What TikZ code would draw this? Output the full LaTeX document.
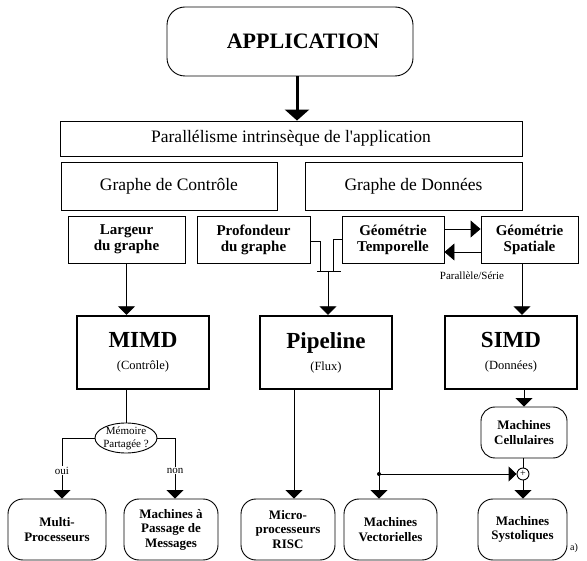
\documentclass[tikz,border=0pt]{standalone}
\usepackage{fontspec}
\setmainfont{Liberation Serif}
\usetikzlibrary{arrows.meta,shapes.geometric,calc}

\begin{document}
\begin{tikzpicture}[x=1pt,y=-1pt,
  thinline/.style={line width=0.9pt},
  box/.style={draw, line width=0.9pt, inner sep=0pt, align=center},
  rbox/.style={box, rounded corners=15pt},
  bigbox/.style={draw, line width=2.4pt, inner sep=0pt, align=center,
    minimum width=132pt, minimum height=73pt,
    font=\fontsize{12.5}{22}\selectfont},
  graphtxt/.style={font=\fontsize{17.5}{20}\selectfont},
  smalltxt/.style={font=\fontsize{15}{16}\selectfont\bfseries},
  leaftxt/.style={font=\fontsize{13}{14.5}\selectfont\bfseries},
  arr/.style={line width=0.9pt, -{Triangle[width=17pt,length=8.5pt]}},
  sidearr/.style={line width=0.9pt, -{Triangle[width=17pt,length=10pt]}},
]
\useasboundingbox (0,0) rectangle (587,561);

% top of the hierarchy
\node[draw, line width=0.9pt, rounded corners=18pt, inner sep=0pt,
      minimum width=246pt, minimum height=69pt,
      font=\fontsize{22}{26}\selectfont\bfseries] (app) at (290,41.5)
      {\hspace*{26pt}APPLICATION};
\node[box, graphtxt, minimum width=462pt, minimum height=35pt] (par) at (291,138.5)
      {Parallélisme intrinsèque de l\textquotesingle application};
\node[box, graphtxt, minimum width=216pt, minimum height=48pt] (gco) at (169,186)
      {Graphe de Contrôle};
\node[box, graphtxt, minimum width=217pt, minimum height=48pt] (gdo) at (413.5,186)
      {Graphe de Données};

% graph properties
\node[box, smalltxt, minimum width=117pt, minimum height=47pt] (lar) at (126.5,239.5)
      {Largeur\\du graphe};
\node[box, smalltxt, minimum width=113pt, minimum height=47pt] (pro) at (253.5,239.5)
      {Profondeur\\du graphe};
\node[box, smalltxt, minimum width=102pt, minimum height=47pt] (tem) at (393,239.5)
      {Géométrie\\Temporelle};
\node[box, smalltxt, minimum width=97pt, minimum height=47pt] (spa) at (529.5,239.5)
      {Géométrie\\Spatiale};

% architecture classes
\node[bigbox] (mimd) at (143,352.5)
      {{\fontsize{23}{23}\selectfont\bfseries MIMD}\\(Contrôle)};
\node[bigbox] (pip) at (326,352.5)
      {{\fontsize{23}{23}\selectfont\bfseries Pipeline}\\(Flux)};
\node[bigbox] (simd) at (511,352.5)
      {{\fontsize{23}{23}\selectfont\bfseries SIMD}\\(Données)};

% shared memory decision
\node[draw, ellipse, line width=0.9pt, inner sep=0pt,
      minimum width=62pt, minimum height=30pt] (mem) at (126,438) {};
\node[font=\fontsize{11}{13}\selectfont, align=center, inner sep=0pt] (memtxt) at (mem)
      {Mémoire\\Partagée ?};

% machines
\node[rbox, leaftxt, rounded corners=14pt, minimum width=86pt, minimum height=51pt] (cel) at (524,432.5)
      {Machines\\Cellulaires};
\node[draw, circle, line width=0.9pt, minimum size=12pt, inner sep=0pt,
      font=\fontsize{10}{10}\selectfont] (plus) at (523,474) {+};

\node[rbox, leaftxt, minimum width=98pt, minimum height=61pt] (mul) at (57,529.5)
      {Multi-\\Processeurs};
\node[rbox, leaftxt, minimum width=94pt, minimum height=61pt] (pas) at (171,529.5)
      {Machines à\\Passage de\\Messages};
\node[rbox, leaftxt, minimum width=94pt, minimum height=61pt] (mic) at (288,529.5)
      {Micro-\\processeurs\\RISC};
\node[rbox, leaftxt, minimum width=93pt, minimum height=61pt] (vec) at (390.5,529.5)
      {Machines\\Vectorielles};
\node[rbox, leaftxt, minimum width=89pt, minimum height=61pt] (sys) at (522.5,529.5)
      {Machines\\Systoliques};

\node[font=\fontsize{11}{13}\selectfont] (ps) at (472,276) {Parallèle/Série};
\node[font=\fontsize{10}{12}\selectfont] (tag) at (574,548) {a)};

% connectors
\coordinate (a1) at ($(app.south)+(7,0)$);
\draw[line width=3pt, -{Triangle[width=24pt,length=11pt]}] (a1) -- (a1 |- par.north);

\draw[arr] (lar.south) -- (lar.south |- mimd.north);

\coordinate (s1) at ($(spa.south)+(-7.5,0)$);
\draw[arr] (s1) -- (s1 |- simd.north);

\coordinate (t1) at ($(tem.east)+(0,-10.5)$);
\draw[sidearr] (t1) -- (t1 -| spa.west);
\coordinate (t2) at ($(spa.west)+(0,12.5)$);
\draw[sidearr] (t2) -- (t2 -| tem.east);

% depth and temporal geometry merge into the pipeline
\coordinate (bar) at (328,271);
\coordinate (pj) at ($(pro.east)+(0,1.5)$);
\coordinate (tj) at ($(tem.west)+(0,-0.5)$);
\draw[thinline] (pj) -- ++(10,0) -- ++(0,30);
\draw[thinline] (tj) -- ++(-8,0) -- ++(0,32);
\draw[thinline] ($(bar)+(-11,0)$) -- ($(bar)+(13,0)$);
\draw[arr] (bar) -- (bar |- pip.north);

% MIMD branch
\draw[thinline] (mem.north |- mimd.south) -- (mem.north);
\draw[arr] (mem.west) -| node[pos=0.77, fill=white, inner sep=1pt,
      font=\fontsize{11}{13}\selectfont] {oui} ($(mul.north)+(5,0)$);
\draw[arr] (mem.east) -| node[pos=0.77, fill=white, inner sep=1pt,
      font=\fontsize{11}{13}\selectfont] {non} ($(pas.north)+(4,0)$);

% pipeline branch
\coordinate (p1) at ($(pip.south)+(-32,0)$);
\draw[arr] (p1) -- (p1 |- mic.north);
\coordinate (p2) at ($(pip.south)+(53,0)$);
\draw[arr] (p2) -- (p2 |- vec.north);
\coordinate (dot) at (p2 |- plus);
\fill (dot) circle (2pt);
\draw[line width=0.9pt, -{Triangle[width=15pt,length=8pt]}] (dot) -- (plus.west);

% SIMD branch
\draw[arr] (cel.north |- simd.south) -- (cel.north);
\draw[thinline] (plus.north |- cel.south) -- (plus.north);
\draw[arr] (plus.south) -- (plus.south |- sys.north);
\end{tikzpicture}
\end{document}
